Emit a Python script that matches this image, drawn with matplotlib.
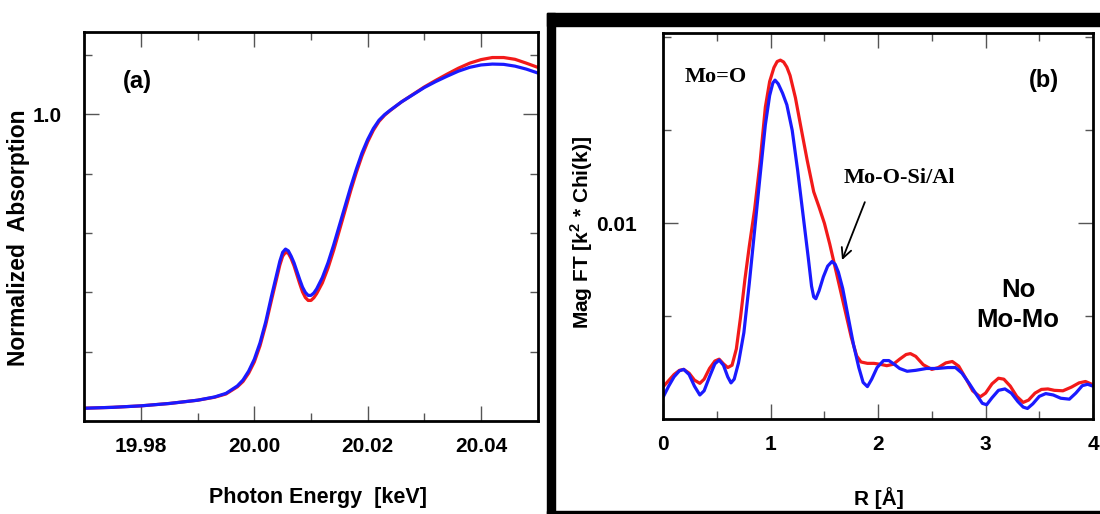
import matplotlib
matplotlib.use("Agg")
import matplotlib.pyplot as plt
from matplotlib.patches import Rectangle
from matplotlib.ticker import FixedLocator, NullFormatter

plt.rcParams['font.family'] = ['Liberation Sans', 'DejaVu Sans']
plt.rcParams['font.weight'] = 'bold'
plt.rcParams['mathtext.fontset'] = 'custom'
plt.rcParams['mathtext.bf'] = 'Liberation Sans:bold'
plt.rcParams['mathtext.rm'] = 'Liberation Sans:bold'

# ---------------- Panel (a): XANES ----------------
energy_kev = [19.970, 19.975, 19.980, 19.985, 19.990, 19.993, 19.995, 19.997, 19.998, 19.999,
              20.000, 20.001, 20.002, 20.003, 20.004, 20.0045, 20.005, 20.0055, 20.006, 20.0065,
              20.007, 20.0075, 20.008, 20.0085, 20.009, 20.0095, 20.010, 20.0105, 20.011, 20.012,
              20.013, 20.014, 20.015, 20.016, 20.017, 20.018, 20.019, 20.020, 20.021, 20.022,
              20.023, 20.024, 20.026, 20.028, 20.030, 20.032, 20.034, 20.036, 20.038, 20.040,
              20.042, 20.044, 20.046, 20.048, 20.050]
absorb_blue = [0.010, 0.013, 0.018, 0.026, 0.037, 0.048, 0.060, 0.085, 0.105, 0.135,
               0.175, 0.230, 0.300, 0.385, 0.465, 0.505, 0.535, 0.546, 0.540, 0.522,
               0.500, 0.472, 0.444, 0.418, 0.400, 0.390, 0.390, 0.398, 0.412, 0.450,
               0.500, 0.560, 0.625, 0.690, 0.755, 0.815, 0.870, 0.915, 0.952, 0.980,
               0.999, 1.014, 1.042, 1.066, 1.090, 1.110, 1.128, 1.145, 1.158, 1.166,
               1.169, 1.168, 1.162, 1.152, 1.139]
absorb_red = [0.010, 0.013, 0.018, 0.026, 0.037, 0.047, 0.058, 0.082, 0.100, 0.128,
              0.166, 0.220, 0.290, 0.372, 0.452, 0.492, 0.522, 0.535, 0.532, 0.514,
              0.490, 0.460, 0.430, 0.402, 0.383, 0.373, 0.373, 0.382, 0.396, 0.432,
              0.482, 0.542, 0.608, 0.675, 0.742, 0.804, 0.860, 0.907, 0.946, 0.976,
              0.997, 1.013, 1.042, 1.067, 1.092, 1.114, 1.135, 1.155, 1.172, 1.184,
              1.191, 1.191, 1.185, 1.172, 1.158]
a_xticks = [19.98, 20.00, 20.02, 20.04]
a_xticklabels = ["19.98", "20.00", "20.02", "20.04"]
a_xminor = [19.99, 20.01, 20.03]
a_yticks = [1.0]
a_yticklabels = ["1.0"]
a_yminor = [0.2, 0.4, 0.6, 0.8, 1.2]

# ---------------- Panel (b): FT-EXAFS ----------------
r_blue = [0.00, 0.05, 0.10, 0.15, 0.19, 0.24, 0.29, 0.34, 0.38, 0.43, 0.48, 0.52, 0.56, 0.60,
          0.63, 0.66, 0.70, 0.75, 0.80, 0.85, 0.90, 0.95, 0.99, 1.02, 1.04, 1.07, 1.11, 1.15,
          1.20, 1.25, 1.30, 1.35, 1.38, 1.40, 1.42, 1.45, 1.49, 1.53, 1.57, 1.60, 1.63, 1.67,
          1.72, 1.77, 1.82, 1.86, 1.90, 1.94, 1.99, 2.05, 2.10, 2.15, 2.20, 2.27, 2.35, 2.45,
          2.55, 2.65, 2.72, 2.78, 2.85, 2.92, 2.97, 3.01, 3.06, 3.12, 3.18, 3.24, 3.30, 3.35,
          3.39, 3.44, 3.50, 3.56, 3.63, 3.70, 3.78, 3.84, 3.90, 3.95, 4.00]
ft_blue = [0.00627, 0.00650, 0.00670, 0.00683, 0.00686, 0.00675, 0.00650, 0.00631, 0.00640,
           0.00670, 0.00698, 0.00706, 0.00695, 0.00670, 0.00657, 0.00665, 0.00700, 0.00765,
           0.00870, 0.00985, 0.01100, 0.01212, 0.01275, 0.01302, 0.01308, 0.01300, 0.01280,
           0.01255, 0.01200, 0.01115, 0.01020, 0.00925, 0.00865, 0.00842, 0.00838, 0.00855,
           0.00885, 0.00908, 0.00918, 0.00912, 0.00895, 0.00860, 0.00800, 0.00740, 0.00690,
           0.00658, 0.00649, 0.00665, 0.00690, 0.00705, 0.00705, 0.00697, 0.00688, 0.00682,
           0.00684, 0.00688, 0.00688, 0.00690, 0.00690, 0.00678, 0.00655, 0.00630, 0.00613,
           0.00610, 0.00625, 0.00641, 0.00644, 0.00635, 0.00617, 0.00605, 0.00602, 0.00612,
           0.00628, 0.00634, 0.00631, 0.00624, 0.00622, 0.00635, 0.00651, 0.00654, 0.00650]
r_red = [0.00, 0.05, 0.10, 0.15, 0.19, 0.24, 0.29, 0.34, 0.38, 0.43, 0.48, 0.52, 0.56, 0.60,
         0.64, 0.68, 0.72, 0.76, 0.80, 0.85, 0.90, 0.95, 0.99, 1.03, 1.06, 1.09, 1.12, 1.15,
         1.18, 1.23, 1.28, 1.34, 1.40, 1.45, 1.50, 1.55, 1.60, 1.65, 1.70, 1.75, 1.80, 1.84,
         1.90, 1.96, 2.02, 2.08, 2.14, 2.20, 2.26, 2.30, 2.35, 2.42, 2.50, 2.56, 2.63, 2.69,
         2.75, 2.82, 2.88, 2.95, 3.00, 3.06, 3.12, 3.17, 3.23, 3.29, 3.35, 3.40, 3.46, 3.52,
         3.58, 3.64, 3.72, 3.80, 3.87, 3.93, 4.00]
ft_red = [0.00649, 0.00662, 0.00675, 0.00684, 0.00686, 0.00678, 0.00663, 0.00656, 0.00665,
          0.00688, 0.00704, 0.00708, 0.00698, 0.00690, 0.00695, 0.00730, 0.00800, 0.00880,
          0.00950, 0.01030, 0.01130, 0.01250, 0.01305, 0.01335, 0.01348, 0.01351, 0.01347,
          0.01336, 0.01318, 0.01270, 0.01208, 0.01135, 0.01068, 0.01035, 0.01000, 0.00955,
          0.00905, 0.00855, 0.00805, 0.00755, 0.00715, 0.00702, 0.00699, 0.00699, 0.00697,
          0.00694, 0.00697, 0.00708, 0.00718, 0.00720, 0.00714, 0.00696, 0.00686, 0.00690,
          0.00700, 0.00703, 0.00693, 0.00665, 0.00640, 0.00627, 0.00635, 0.00655, 0.00667,
          0.00665, 0.00650, 0.00628, 0.00615, 0.00620, 0.00635, 0.00643, 0.00644, 0.00641,
          0.00640, 0.00648, 0.00657, 0.00660, 0.00653]
b_xticks = [0, 1, 2, 3, 4]
b_xticklabels = ["0", "1", "2", "3", "4"]
b_xminor = [0.5, 1.5, 2.5, 3.5]
b_yticks = [0.010]
b_yticklabels = ["0.01"]
b_yminor = [0.008, 0.012, 0.014]

RED = '#f21a1a'
BLUE = '#1a1aff'
W, H = 1100, 514

fig = plt.figure(figsize=(11, 5.14), dpi=100)
ax1 = fig.add_axes([84.3 / W, (H - 420.7) / H, 453.4 / W, 389 / H])
ax2 = fig.add_axes([663.3 / W, (H - 418.7) / H, 429.7 / W, 386 / H])


def style_axes(ax, xmaj, xlab, xmin, ymaj, ylab, ymin, fs, xpad, ypad):
    for s in ax.spines.values():
        s.set_linewidth(2.0)
        s.set_color('black')
    ax.xaxis.set_major_locator(FixedLocator(xmaj))
    ax.set_xticklabels(xlab)
    ax.xaxis.set_minor_locator(FixedLocator(xmin))
    ax.yaxis.set_major_locator(FixedLocator(ymaj))
    ax.set_yticklabels(ylab)
    ax.yaxis.set_minor_locator(FixedLocator(ymin))
    ax.yaxis.set_minor_formatter(NullFormatter())
    ax.tick_params(which='both', direction='in', top=True, right=True,
                   color='#555555', width=1.0)
    ax.tick_params(which='major', length=11)
    ax.tick_params(which='minor', length=6)
    ax.tick_params(axis='x', which='major', pad=xpad, labelsize=fs)
    ax.tick_params(axis='y', which='major', pad=ypad, labelsize=fs)
    for lbl in ax.get_xticklabels() + ax.get_yticklabels():
        lbl.set_fontweight('bold')


# Panel (a)
ax1.plot(energy_kev, absorb_red, color=RED, lw=2.3, solid_capstyle='round',
         solid_joinstyle='round')
ax1.plot(energy_kev, absorb_blue, color=BLUE, lw=2.3, solid_capstyle='round',
         solid_joinstyle='round')
ax1.set_xlim(19.97, 20.05)
ax1.set_ylim(-0.032, 1.278)
style_axes(ax1, a_xticks, a_xticklabels, a_xminor, a_yticks, a_yticklabels, a_yminor,
           15, 12, 16)
ax1.text(0.118, 0.873, "(a)", transform=ax1.transAxes, ha='center', va='center',
         fontsize=17, fontweight='bold')

# Panel (b)
ax2.plot(r_red, ft_red, color=RED, lw=2.3, solid_capstyle='round', solid_joinstyle='round')
ax2.plot(r_blue, ft_blue, color=BLUE, lw=2.3, solid_capstyle='round', solid_joinstyle='round')
ax2.set_xlim(0, 4)
ax2.set_ylim(0.0058, 0.0141)
style_axes(ax2, b_xticks, b_xticklabels, b_xminor, b_yticks, b_yticklabels, b_yminor,
           15, 12, 19)

serif = ['Liberation Serif', 'DejaVu Serif']
ax2.text(0.049, 0.872, "Mo=O", transform=ax2.transAxes, ha='left', va='baseline',
         fontsize=16, fontweight='bold', family=serif)
ax2.text(0.886, 0.875, "(b)", transform=ax2.transAxes, ha='center', va='center',
         fontsize=17, fontweight='bold')
ax2.text(0.4205, 0.61, "Mo-O-Si/Al", transform=ax2.transAxes, ha='left', va='baseline',
         fontsize=16, fontweight='bold', family=serif)
ax2.annotate("", xy=(0.416, 0.411), xytext=(0.469, 0.561), xycoords='axes fraction',
             textcoords='axes fraction',
             arrowprops=dict(arrowstyle='->', color='black', lw=1.3,
                             mutation_scale=18, shrinkA=0, shrinkB=0))
ax2.text(0.8255, 0.295, "No\nMo-Mo", transform=ax2.transAxes, ha='center', va='center',
         fontsize=18.5, fontweight='bold', linespacing=1.35, multialignment='center')

# Axis titles
fig.text(19 / W, 1 - 238 / H, "Normalized  Absorption", rotation=90, ha='center', va='center',
         fontsize=16.5, fontweight='bold')
fig.text(318 / W, 1 - 498 / H, "Photon Energy  [keV]", ha='center', va='center',
         fontsize=15.5, fontweight='bold')
fig.text(582 / W, 1 - 232 / H, r"Mag FT [k${}^{\mathbf{2}}$ * Chi(k)]", rotation=90,
         ha='center', va='center', fontsize=15, fontweight='bold')
fig.text(879 / W, 1 - 498 / H, "R [Å]", ha='center', va='center',
         fontsize=15, fontweight='bold')

# Black frame around panel (b)
fig.patches.append(Rectangle((546.7 / W, 1 - 26 / H), (W - 546.7) / W, 12.7 / H,
                             transform=fig.transFigure, color='black', zorder=5))
fig.patches.append(Rectangle((546.7 / W, 0), 8 / W, (H - 13.3) / H,
                             transform=fig.transFigure, color='black', zorder=5))
fig.patches.append(Rectangle((546.7 / W, 0.5 / H), (W - 546.7) / W, 2.5 / H,
                             transform=fig.transFigure, color='black', zorder=5))

fig.savefig("out.png", dpi=100)
